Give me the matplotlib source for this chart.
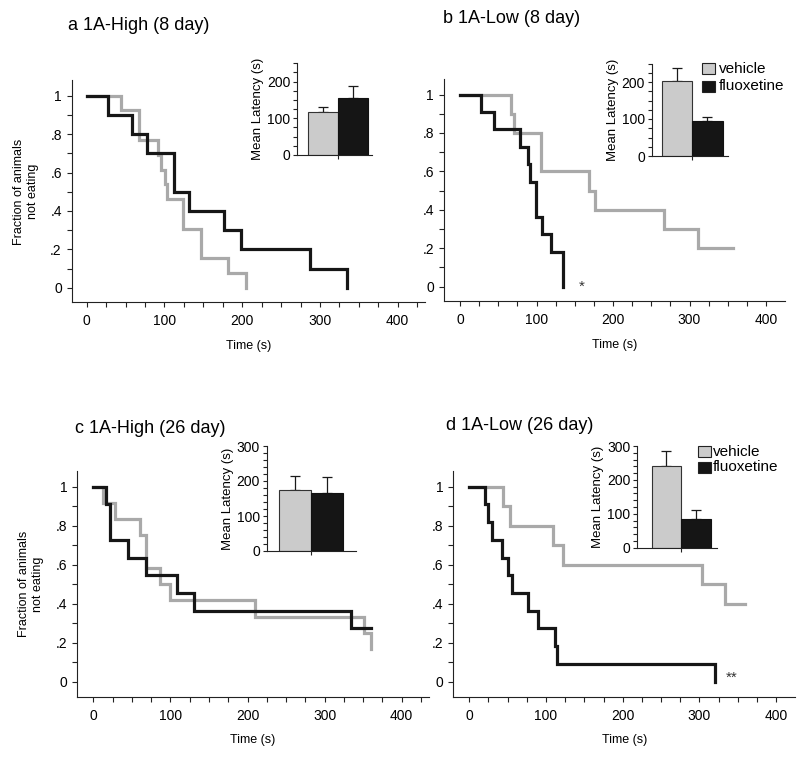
import matplotlib
matplotlib.use('Agg')
import matplotlib.pyplot as plt
import numpy as np
from matplotlib.patches import Rectangle

plt.rcParams['font.family'] = ['Liberation Sans', 'DejaVu Sans']

W, H, DPI = 800, 758, 100

# ---------------- data ----------------
groups = ['vehicle', 'fluoxetine']
y_tick_values = [0, 0.2, 0.4, 0.6, 0.8, 1.0]
y_tick_labels = ['0', '.2', '.4', '.6', '.8', '1']
x_tick_values = [0, 100, 200, 300, 400]

# panel a: 1A-High (8 day)
a_veh_t = [0, 44, 67, 92, 95, 101, 103, 124, 147, 182, 205]
a_veh_f = [1.0, 0.923, 0.769, 0.692, 0.615, 0.538, 0.462, 0.308, 0.154, 0.077, 0.0]
a_flx_t = [0, 27, 58, 78, 112, 131, 177, 199, 287, 335]
a_flx_f = [1.0, 0.9, 0.8, 0.7, 0.5, 0.4, 0.3, 0.2, 0.1, 0.0]
a_mean = [117, 155]
a_err = [14, 32]

# panel b: 1A-Low (8 day)
b_veh_t = [0, 67, 71, 106, 169, 177, 267, 311, 357]
b_veh_f = [1.0, 0.9, 0.8, 0.6, 0.5, 0.4, 0.3, 0.2, 0.2]
b_flx_t = [0, 28, 44, 79, 89, 92, 99, 107, 119, 135]
b_flx_f = [1.0, 0.909, 0.818, 0.727, 0.636, 0.545, 0.364, 0.273, 0.182, 0.0]
b_mean = [202, 95]
b_err = [37, 10]

# panel c: 1A-High (26 day)
c_veh_t = [0, 12, 28, 61, 69, 86, 100, 210, 351, 360]
c_veh_f = [1.0, 0.917, 0.833, 0.75, 0.583, 0.5, 0.417, 0.333, 0.25, 0.167]
c_flx_t = [0, 16, 22, 45, 69, 108, 131, 334, 360]
c_flx_f = [1.0, 0.909, 0.727, 0.636, 0.545, 0.455, 0.364, 0.273, 0.273]
c_mean = [174, 167]
c_err = [41, 45]

# panel d: 1A-Low (26 day)
d_veh_t = [0, 44, 53, 109, 122, 304, 334, 360]
d_veh_f = [1.0, 0.9, 0.8, 0.7, 0.6, 0.5, 0.4, 0.4]
d_flx_t = [0, 20, 25, 30, 42, 50, 56, 76, 89, 112, 114, 320]
d_flx_f = [1.0, 0.909, 0.818, 0.727, 0.636, 0.545, 0.455, 0.364, 0.273, 0.182, 0.091, 0.0]
d_mean = [241, 85]
d_err = [45, 25]

titles = ['a 1A-High (8 day)', 'b 1A-Low (8 day)', 'c 1A-High (26 day)', 'd 1A-Low (26 day)']

GRAY_LINE = '#a9a9a9'
BLACK_LINE = '#161616'
GRAY_BAR = '#cbcbcb'
BLACK_BAR = '#151515'
AX_COL = '#222222'

fig = plt.figure(figsize=(W / DPI, H / DPI), dpi=DPI)


def px_axes(x0, y0, x1, y1):
    return fig.add_axes([x0 / W, 1 - y1 / H, (x1 - x0) / W, (y1 - y0) / H])


def fx(x):
    return x / W


def fy(y):
    return 1 - y / H


def main_panel(t0, sx, y0, y1, xlim, ylim, veh_t, veh_f, flx_t, flx_f, ylabel):
    sy = y0 - y1
    left = t0 + xlim[0] * sx
    right = t0 + xlim[1] * sx
    top = y0 - ylim[1] * sy
    bottom = y0 - ylim[0] * sy
    ax = px_axes(left, top, right, bottom)
    ax.set_xlim(*xlim)
    ax.set_ylim(*ylim)
    ax.step(veh_t, veh_f, where='post', color=GRAY_LINE, lw=2.3, solid_joinstyle='miter')
    ax.step(flx_t, flx_f, where='post', color=BLACK_LINE, lw=2.3, solid_joinstyle='miter')
    for s in ['top', 'right']:
        ax.spines[s].set_visible(False)
    for s in ['left', 'bottom']:
        ax.spines[s].set_linewidth(0.8)
        ax.spines[s].set_color(AX_COL)
    ax.set_yticks(y_tick_values)
    ax.set_yticklabels(y_tick_labels)
    ax.set_yticks(np.arange(0.1, 1.0, 0.2), minor=True)
    ax.set_xticks(x_tick_values)
    ax.set_xticks(np.arange(25, xlim[1], 25), minor=True)
    ax.tick_params(which='both', direction='out', length=3.6, width=0.8, color=AX_COL)
    ax.tick_params(axis='y', which='major', labelsize=10, pad=3.5)
    ax.tick_params(axis='x', which='major', labelsize=10, pad=5)
    ax.set_xlabel('Time (s)', fontsize=9, labelpad=8.5)
    if ylabel:
        fig.text(fx(left - 46), fy((top + bottom) / 2), 'Fraction of animals\nnot eating',
                 rotation=90, ha='center', va='center', multialignment='center', fontsize=9)
    return ax


def inset(axis_x, y_bottom, sy, ytop, bw, gap, rpad, means, errs, minor_step):
    xl = (-gap / bw, 2 + rpad / bw)
    left = axis_x
    right = axis_x + (xl[1] - xl[0]) * bw
    top = y_bottom - ytop * sy
    ax = px_axes(left, top, right, y_bottom)
    ax.set_xlim(*xl)
    ax.set_ylim(0, ytop)
    ax.bar(np.arange(2), means, width=1.0, align='edge', color=[GRAY_BAR, BLACK_BAR],
           edgecolor=['#333333', '#111111'], linewidth=0.8, zorder=2)
    ax.errorbar(np.arange(2) + 0.5, means, yerr=[[0, 0], errs], fmt='none', ecolor='#1a1a1a',
                elinewidth=0.9, capsize=3.5, capthick=0.9, zorder=1)
    for s in ['top', 'right']:
        ax.spines[s].set_visible(False)
    for s in ['left', 'bottom']:
        ax.spines[s].set_linewidth(0.8)
        ax.spines[s].set_color(AX_COL)
    ax.set_yticks(np.arange(0, ytop + 1, 100))
    ax.set_yticks(np.arange(0, ytop + 1, minor_step), minor=True)
    ax.set_xticks([1])
    ax.set_xticklabels([])
    ax.tick_params(which='both', direction='out', length=3, width=0.8, color=AX_COL)
    ax.tick_params(axis='y', labelsize=10, pad=2)
    ax.set_ylabel('Mean Latency (s)', fontsize=9.5, labelpad=2)
    return ax


def legend(x, y_top, box_w, box_h, row_gap, text_dx):
    cols = [GRAY_BAR, BLACK_BAR]
    for i, (g, c) in enumerate(zip(groups, cols)):
        yt = y_top + i * row_gap
        fig.add_artist(Rectangle((fx(x), fy(yt + box_h)), box_w / W, box_h / H,
                                 transform=fig.transFigure, facecolor=c,
                                 edgecolor='#222222', linewidth=0.8))
        fig.text(fx(x + box_w + text_dx), fy(yt + box_h / 2), g, ha='left', va='center',
                 fontsize=11)


YL = (-0.077, 1.08)

ax_a = main_panel(86.7, 0.7775, 287.7, 95.7, (-19.3, 435), YL,
                  a_veh_t, a_veh_f, a_flx_t, a_flx_f, True)
ax_b = main_panel(460, 0.765, 286.7, 94.5, (-21, 425), YL,
                  b_veh_t, b_veh_f, b_flx_t, b_flx_f, False)
ax_c = main_panel(93.3, 0.771, 681.7, 486.7, (-20.8, 435), YL,
                  c_veh_t, c_veh_f, c_flx_t, c_flx_f, True)
ax_d = main_panel(469.3, 0.767, 681.7, 486.7, (-20.9, 425), YL,
                  d_veh_t, d_veh_f, d_flx_t, d_flx_f, False)

ax_b.text(159, 0.0, '*', ha='center', va='center', fontsize=11, color='#333333')
ax_d.text(342, 0.02, '**', ha='center', va='center', fontsize=11, color='#333333')

inset(297.3, 155, 0.3667, 250, 29.7, 11, 4, a_mean, a_err, 25)
inset(651.7, 156, 0.37, 250, 30.5, 10, 5, b_mean, b_err, 25)
inset(266.7, 551, 0.35, 300, 32, 12.6, 13, c_mean, c_err, 20)
inset(637.3, 547.7, 0.339, 300, 29.5, 14.4, 6, d_mean, d_err, 20)

legend(701.7, 63.3, 13.3, 11, 17.7, 4)
legend(698.3, 446, 12.7, 11, 15.7, 1.5)

fig.text(fx(68), fy(30), titles[0], fontsize=13, ha='left', va='baseline')
fig.text(fx(443), fy(23), titles[1], fontsize=13, ha='left', va='baseline')
fig.text(fx(75), fy(433), titles[2], fontsize=13, ha='left', va='baseline')
fig.text(fx(446), fy(430), titles[3], fontsize=13, ha='left', va='baseline')

fig.savefig('out.png', dpi=DPI)
